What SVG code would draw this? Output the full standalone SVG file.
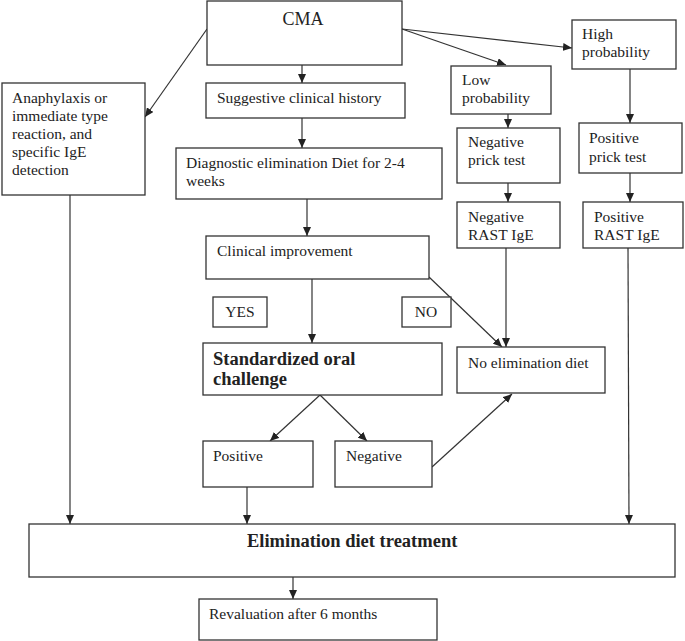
<svg xmlns="http://www.w3.org/2000/svg" width="685" height="641" viewBox="0 0 685 641">
<style>
.b{fill:#fff;stroke:#333;stroke-width:1.3}
.t{font-family:"Liberation Serif","Times New Roman",serif;font-size:15.5px;fill:#222}
.bt{font-family:"Liberation Serif","Times New Roman",serif;font-size:18.5px;font-weight:bold;fill:#222}
.c{fill:none;stroke:#333;stroke-width:1.2;marker-end:url(#ah)}
</style>
<defs>
<marker id="ah" markerUnits="userSpaceOnUse" markerWidth="9" markerHeight="8" refX="9" refY="4" orient="auto">
<path d="M0,0 L9,4 L0,8 z" fill="#222"/>
</marker>
</defs>
<rect width="685" height="641" fill="#fff"/>
<g id="connectors">
<path class="c" d="M207,29 L145,117"/>
<path class="c" d="M302,65 L302,83"/>
<path class="c" d="M402,29 L506,65"/>
<path class="c" d="M402,29 L572,48"/>
<path class="c" d="M302,118 L302,148"/>
<path class="c" d="M307,199 L307,236"/>
<path class="c" d="M312,277 L312,343"/>
<path class="c" d="M429,277 L502,347"/>
<path class="c" d="M320,395 L270,441"/>
<path class="c" d="M320,395 L367,441"/>
<path class="c" d="M432,467 L512,394"/>
<path class="c" d="M508,114 L508,128"/>
<path class="c" d="M508,183 L508,202"/>
<path class="c" d="M506,248 L506,347"/>
<path class="c" d="M630,69 L630,123"/>
<path class="c" d="M630,173 L630,202"/>
<path class="c" d="M628,248 L629,524"/>
<path class="c" d="M70,195 L70,524"/>
<path class="c" d="M247,487 L247,524"/>
<path class="c" d="M293,577 L293,599"/>
</g>
<g id="cma"><rect class="b" x="207" y="1" width="195" height="64"/><text class="t" x="303" y="25" text-anchor="middle" style="font-size:18px">CMA</text></g>
<g id="anaphylaxis"><rect class="b" x="2" y="83" width="143" height="112"/>
<text class="t" x="12" y="103">Anaphylaxis or</text>
<text class="t" x="12" y="121">immediate type</text>
<text class="t" x="12" y="139">reaction, and</text>
<text class="t" x="12" y="157">specific IgE</text>
<text class="t" x="12" y="175">detection</text></g>
<g id="suggestive"><rect class="b" x="206" y="83" width="199" height="35"/><text class="t" x="217" y="103">Suggestive clinical history</text></g>
<g id="diagnostic"><rect class="b" x="176" y="148" width="266" height="51"/><text class="t" x="186" y="168">Diagnostic elimination Diet for 2-4</text><text class="t" x="186" y="186">weeks</text></g>
<g id="clinical"><rect class="b" x="206" y="236" width="223" height="43"/><text class="t" x="217" y="256">Clinical improvement</text></g>
<g id="yes"><rect class="b" x="213" y="297" width="54" height="30"/><text class="t" x="240" y="317" text-anchor="middle">YES</text></g>
<g id="no"><rect class="b" x="402" y="297" width="49" height="30"/><text class="t" x="426" y="317" text-anchor="middle">NO</text></g>
<g id="standardized"><rect class="b" x="203" y="343" width="239" height="52"/><text class="bt" x="213" y="365">Standardized oral</text><text class="bt" x="213" y="385">challenge</text></g>
<g id="positive"><rect class="b" x="203" y="441" width="110" height="46"/><text class="t" x="213" y="461">Positive</text></g>
<g id="negative"><rect class="b" x="335" y="441" width="97" height="46"/><text class="t" x="346" y="461">Negative</text></g>
<g id="no-elimination"><rect class="b" x="457" y="347" width="148" height="46"/><text class="t" x="468" y="368">No elimination diet</text></g>
<g id="low"><rect class="b" x="451" y="66" width="100" height="48"/><text class="t" x="462" y="85">Low</text><text class="t" x="462" y="103">probability</text></g>
<g id="high"><rect class="b" x="572" y="20" width="104" height="49"/><text class="t" x="582" y="39">High</text><text class="t" x="582" y="57">probability</text></g>
<g id="neg-prick"><rect class="b" x="457" y="128" width="103" height="55"/><text class="t" x="468" y="147">Negative</text><text class="t" x="468" y="165">prick test</text></g>
<g id="pos-prick"><rect class="b" x="579" y="123" width="103" height="50"/><text class="t" x="589" y="143">Positive</text><text class="t" x="589" y="162">prick test</text></g>
<g id="neg-rast"><rect class="b" x="457" y="202" width="103" height="46"/><text class="t" x="468" y="222">Negative</text><text class="t" x="468" y="240">RAST IgE</text></g>
<g id="pos-rast"><rect class="b" x="583" y="202" width="100" height="46"/><text class="t" x="594" y="222">Positive</text><text class="t" x="594" y="240">RAST IgE</text></g>
<g id="elimination"><rect class="b" x="29" y="524" width="646" height="53"/><text class="bt" x="247" y="547">Elimination diet treatment</text></g>
<g id="revaluation"><rect class="b" x="199" y="599" width="238" height="41"/><text class="t" x="209" y="619">Revaluation after 6 months</text></g>
</svg>
